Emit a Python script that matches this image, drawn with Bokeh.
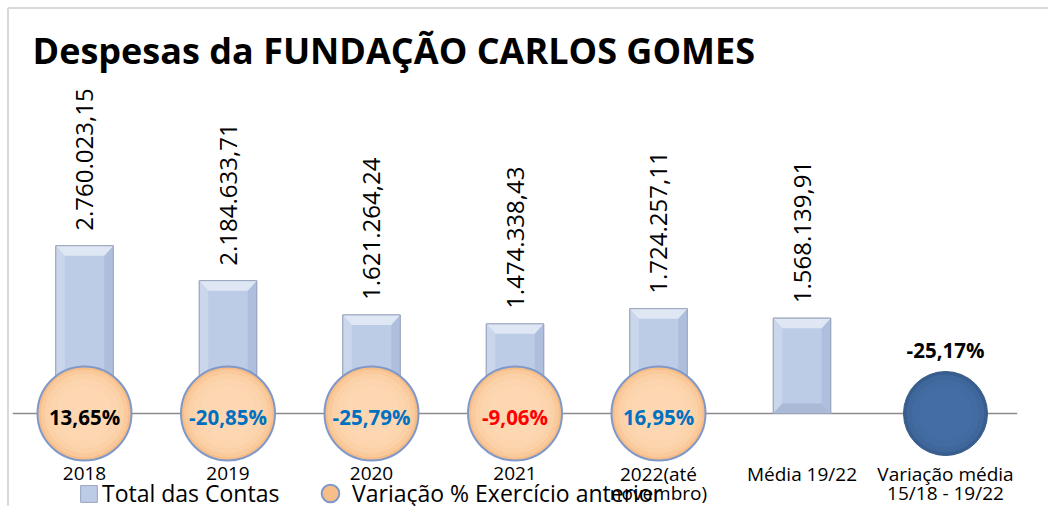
import math
from bokeh.plotting import figure
from bokeh.models import ColumnDataSource, Range1d, Legend, LegendItem, Label
from bokeh.core.properties import value
from bokeh.embed import file_html
from bokeh.resources import INLINE

# ---------------- data ----------------
categories = ["2018", "2019", "2020", "2021", "2022(até\nnovembro)",
              "Média 19/22", "Variação média\n15/18 - 19/22"]
totals = [2760023.15, 2184633.71, 1621264.24, 1474338.43, 1724257.11, 1568139.91]
variations = [13.65, -20.85, -25.79, -9.06, 16.95]
avg_variation = -25.17
title_text = "Despesas da FUNDAÇÃO CARLOS GOMES"
series_names = ["Total das Contas", "Variação % Exercício anterior"]

# ---------------- styles ----------------
var_label_colors = ["#000000", "#0070C0", "#0070C0", "#FF0000", "#0070C0"]
FONT = "Open Sans"
W, H = 1048, 506
PX_PER_CAT = 143.5
PX_PER_UNIT = 60.8 / 1e6
FIRST_CENTER_PX = 84
BASE_PX_FROM_TOP = 413


def fmt_br(v):
    s = f"{v:,.2f}"
    return s.replace(",", "X").replace(".", ",").replace("X", ".")


def fmt_pct(v):
    return f"{v:.2f}".replace(".", ",") + "%"


x0r = -FIRST_CENTER_PX / PX_PER_CAT
x1r = (W - FIRST_CENTER_PX) / PX_PER_CAT
y0r = -(H - BASE_PX_FROM_TOP) / PX_PER_UNIT
y1r = BASE_PX_FROM_TOP / PX_PER_UNIT

p = figure(width=W, height=H, x_range=Range1d(x0r, x1r), y_range=Range1d(y0r, y1r),
           x_axis_type=None, y_axis_type=None,
           output_backend="svg", toolbar_location=None,
           min_border_left=0, min_border_top=0, min_border_right=0, min_border_bottom=0,
           border_fill_color="white", background_fill_color="white",
           outline_line_color=None)
p.grid.visible = False

# chart-area frame (decorative, light gray, top & left visible)
fx = x0r + 7.5 / PX_PER_CAT
fy = y1r - 7.5 / PX_PER_UNIT
p.segment(x0=[fx, fx], y0=[fy, fy], x1=[x1r + 1, fx], y1=[fy, y0r - 1e6],
          line_color="#d9d9d9", line_width=2)

n_cat = len(categories)
# baseline
p.segment(x0=[-0.5], y0=[0], x1=[n_cat - 0.5], y1=[0], line_color="#8c8c8c", line_width=1.5)

# bars
bw = 0.4
bar_x = list(range(len(totals)))
bar_src = ColumnDataSource(dict(x=bar_x, top=totals, label=[fmt_br(v) for v in totals]))
bars = p.vbar(x="x", top="top", bottom=0, width=bw, source=bar_src,
              fill_color="#bccbe6", line_color="#9aa6bd", line_width=1)

# bevel effect
dy = 10 / PX_PER_UNIT
dx = 9 / PX_PER_CAT
top_xs, top_ys, r_xs, r_ys, l_xs, l_ys, b_xs, b_ys = [], [], [], [], [], [], [], []
for x, t in zip(bar_x, totals):
    xa, xb = x - bw / 2, x + bw / 2
    top_xs.append([xa, xb, xb - dx, xa + dx])
    top_ys.append([t, t, t - dy, t - dy])
    r_xs.append([xb, xb, xb - dx, xb - dx])
    r_ys.append([t, 0, dy, t - dy])
    l_xs.append([xa, xa, xa + dx, xa + dx])
    l_ys.append([t, 0, dy, t - dy])
    b_xs.append([xa, xb, xb - dx, xa + dx])
    b_ys.append([0, 0, dy, dy])
p.patches(r_xs, r_ys, fill_color="#aebfdd", line_color=None)
p.patches(l_xs, l_ys, fill_color="#c9d6ec", line_color=None)
p.patches(b_xs, b_ys, fill_color="#a9b9d6", line_color=None)
p.patches(top_xs, top_ys, fill_color="#dfe7f4", line_color=None)
p.vbar(x="x", top="top", bottom=0, width=bw, source=bar_src,
       fill_color=None, line_color="#9aa6bd", line_width=1)

# value labels (rotated)
p.text(x="x", y="top", text="label", source=bar_src, angle=math.pi / 2,
       text_align="left", text_baseline="middle", y_offset=-15,
       text_font=value(FONT), text_font_size="24px", text_color="#000000")

# variation circles
var_x = list(range(len(variations)))
circ_src = ColumnDataSource(dict(x=var_x, y=[0] * len(variations),
                                 label=[fmt_pct(v) for v in variations],
                                 color=var_label_colors))
circles = p.scatter("x", "y", size=94, source=circ_src, fill_color="#f7be88",
                    line_color="#7f98c9", line_width=2)
for s, a in [(88, 0.45), (80, 0.45), (70, 0.5), (56, 0.5)]:
    p.scatter("x", "y", size=s, source=circ_src, fill_color="#fddab5",
              fill_alpha=a, line_color=None)
p.text(x="x", y="y", text="label", text_color="color", source=circ_src,
       text_align="center", text_baseline="middle", y_offset=3,
       text_font=value(FONT), text_font_size="20.5px", text_font_style="bold")

# average variation
avg_src = ColumnDataSource(dict(x=[n_cat - 1], y=[0], label=[fmt_pct(avg_variation)]))
p.scatter("x", "y", size=84, source=avg_src, fill_color="#385e90",
          line_color="#355886", line_width=1)
for s, a in [(78, 0.5), (68, 0.5), (54, 0.5)]:
    p.scatter("x", "y", size=s, source=avg_src, fill_color="#4570a7",
              fill_alpha=a, line_color=None)
p.text(x="x", y="y", text="label", source=avg_src, text_align="center",
       text_baseline="middle", y_offset=-64, text_font=value(FONT),
       text_font_size="20.5px", text_font_style="bold", text_color="#000000")

# category labels (each line drawn on its own baseline)
line1 = [c.split("\n")[0] for c in categories]
line2 = [c.split("\n")[1] if "\n" in c else "" for c in categories]
cat_src = ColumnDataSource(dict(x=list(range(n_cat)), y=[0] * n_cat, l1=line1, l2=line2))
for col, off in [("l1", 60), ("l2", 79)]:
    p.text(x="x", y="y", text=col, source=cat_src, text_align="center",
           text_baseline="alphabetic", y_offset=off,
           text_font=value(FONT), text_font_size="19px", text_color="#000000")

# title
p.add_layout(Label(x=32, y=H - 63.5 + 14, x_units="screen", y_units="screen", text=title_text,
                   text_font=FONT, text_font_size="36px", text_font_style="bold",
                   text_baseline="alphabetic", text_color="#000000"))

# legends
leg1 = Legend(items=[LegendItem(label=series_names[0], renderers=[bars])],
              location=(78, -3), orientation="horizontal", glyph_width=21, glyph_height=21,
              label_standoff=3, padding=0, margin=0, border_line_color=None,
              background_fill_alpha=0, label_text_font=FONT,
              label_text_font_size="23px", label_text_color="#000000")
leg2 = Legend(items=[LegendItem(label=series_names[1], renderers=[circles])],
              location=(308, -9), orientation="horizontal", glyph_width=44, glyph_height=44,
              label_standoff=0, padding=0, margin=0, border_line_color=None,
              background_fill_alpha=0, label_text_font=FONT,
              label_text_font_size="23px", label_text_color="#000000")
p.add_layout(leg1)
p.add_layout(leg2)

open("out.html", "w").write(file_html(p, INLINE))
